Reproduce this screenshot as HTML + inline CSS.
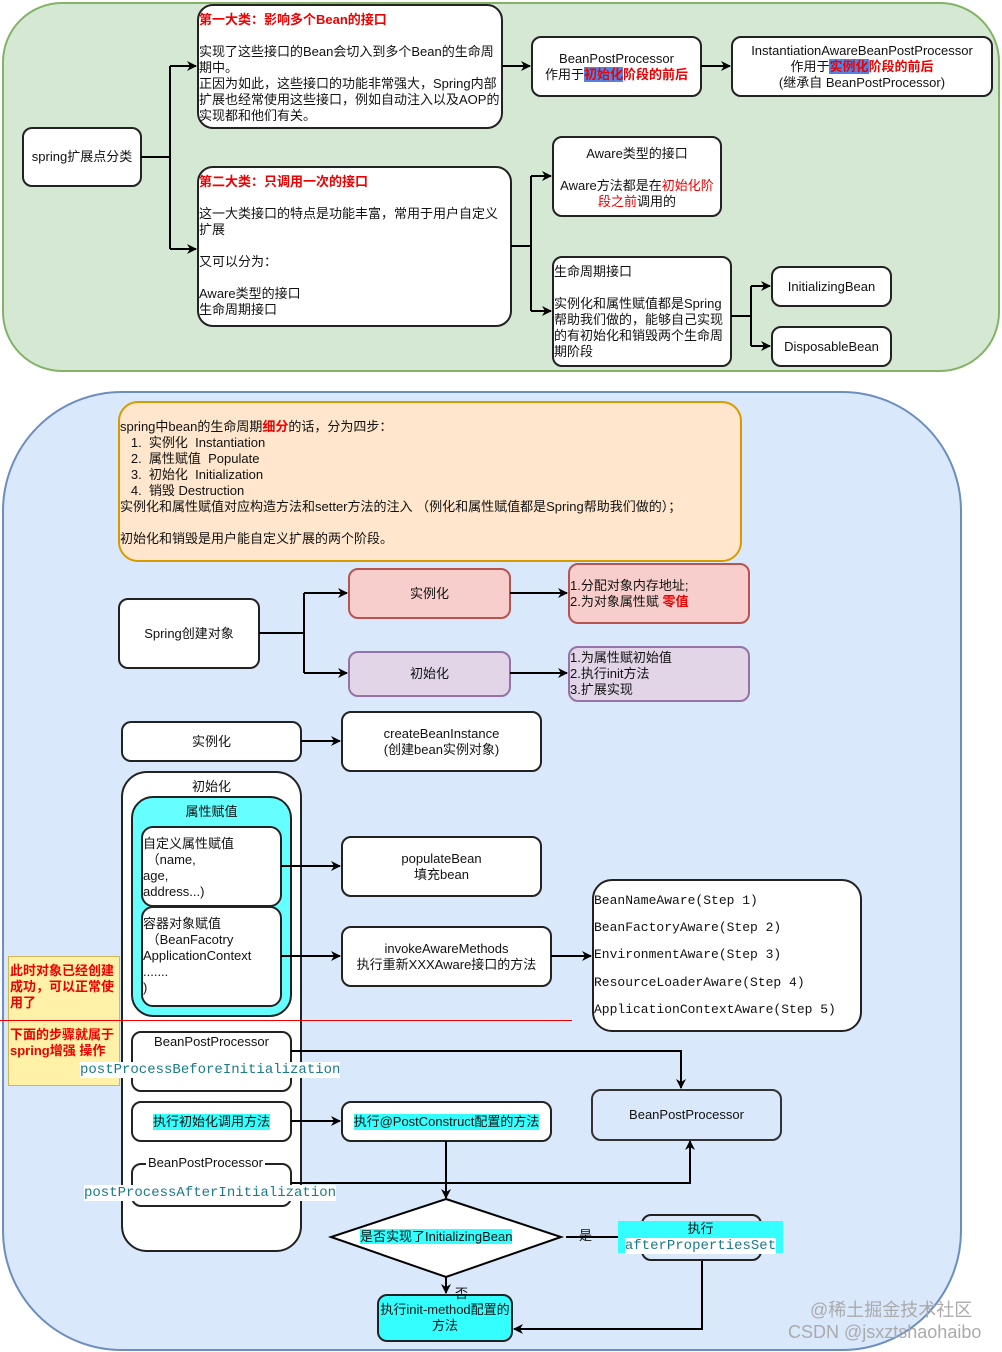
<!DOCTYPE html>
<html><head><meta charset="utf-8"><style>
body{margin:0;width:1002px;height:1352px;background:#fff;position:relative;overflow:hidden;font-family:"Liberation Sans","Noto Sans CJK SC",sans-serif;font-size:13px;color:#111}
.b{position:absolute;box-sizing:border-box;border:2px solid #222;border-radius:10px;background:#fff;display:flex;flex-direction:column;justify-content:center;align-items:center;text-align:center;line-height:16px}
.l{align-items:flex-start;text-align:left;justify-content:flex-start}
.r{color:#e00;font-weight:bold}
.hl{background:#4a86e8}
.m{font-family:"Liberation Mono",monospace;font-size:14px}
.t{position:absolute;white-space:nowrap;line-height:16px}
.cy{background:#33ffff}
svg{position:absolute;left:0;top:0}
</style></head><body>
<div class="b" style="left:2px;top:2px;width:998px;height:370px;border-radius:60px;background:#d5e8d4;border-color:#82b366"></div>
<div class="b" style="left:2px;top:391px;width:960px;height:960px;border-radius:120px;background:#dae8fc;border-color:#6c8ebf"></div>

<div class="b" style="left:22px;top:127px;width:120px;height:60px">spring扩展点分类</div>
<div class="b l" style="left:197px;top:4px;width:306px;height:125px;border-radius:16px"><div style="margin-top:6px"><span class="r">第一大类：影响多个Bean的接口</span><br><br>实现了这些接口的Bean会切入到多个Bean的生命周期中。<br>正因为如此，这些接口的功能非常强大，Spring内部扩展也经常使用这些接口，例如自动注入以及AOP的实现都和他们有关。</div></div>
<div class="b" style="left:531px;top:36px;width:171px;height:61px">BeanPostProcessor<br><span>作用于<span class="r"><span class="hl">初始化</span>阶段的前后</span></span></div>
<div class="b" style="left:731px;top:36px;width:262px;height:61px">InstantiationAwareBeanPostProcessor<br><span>作用于<span class="r"><span class="hl">实例化</span>阶段的前后</span></span>(继承自 BeanPostProcessor)</div>
<div class="b l" style="left:197px;top:166px;width:315px;height:161px;border-radius:16px"><div style="margin-top:6px"><span class="r">第二大类：只调用一次的接口</span><br><br>这一大类接口的特点是功能丰富，常用于用户自定义扩展<br><br>又可以分为：<br><br>Aware类型的接口<br>生命周期接口</div></div>
<div class="b" style="left:552px;top:136px;width:170px;height:81px;justify-content:flex-start;padding-top:8px">Aware类型的接口<br><br><span>Aware方法都是在<span class="r" style="font-weight:normal">初始化阶段之前</span>调用的</span></div>
<div class="b l" style="left:552px;top:256px;width:180px;height:111px"><div style="margin-top:6px">生命周期接口<br><br>实例化和属性赋值都是Spring帮助我们做的，能够自己实现的有初始化和销毁两个生命周期阶段</div></div>
<div class="b" style="left:771px;top:266px;width:121px;height:41px">InitializingBean</div>
<div class="b" style="left:771px;top:326px;width:121px;height:41px">DisposableBean</div>

<div class="b l" style="left:118px;top:401px;width:624px;height:161px;border-radius:20px;background:#ffe6cc;border-color:#d79b00"><div style="margin-top:16px">spring中bean的生命周期<span class="r">细分</span>的话，分为四步：<br>&nbsp;&nbsp;&nbsp;1.&nbsp; 实例化&nbsp; Instantiation<br>&nbsp;&nbsp;&nbsp;2.&nbsp; 属性赋值&nbsp; Populate<br>&nbsp;&nbsp;&nbsp;3.&nbsp; 初始化&nbsp; Initialization<br>&nbsp;&nbsp;&nbsp;4.&nbsp; 销毁 Destruction<br>实例化和属性赋值对应构造方法和setter方法的注入 （例化和属性赋值都是Spring帮助我们做的）；<br><br>初始化和销毁是用户能自定义扩展的两个阶段。</div></div>
<div class="b" style="left:118px;top:598px;width:142px;height:71px">Spring创建对象</div>
<div class="b" style="left:348px;top:568px;width:163px;height:51px;background:#f8cecc;border-color:#b85450">实例化</div>
<div class="b" style="left:348px;top:651px;width:163px;height:46px;background:#e1d5e7;border-color:#9673a6">初始化</div>
<div class="b l" style="left:568px;top:563px;width:182px;height:61px;background:#f8cecc;border-color:#b85450;justify-content:center"><div>1.分配对象内存地址;<br>2.为对象属性赋 <span class="r">零值</span></div></div>
<div class="b l" style="left:568px;top:646px;width:182px;height:56px;background:#e1d5e7;border-color:#9673a6;justify-content:center"><div>1.为属性赋初始值<br>2.执行init方法<br>3.扩展实现</div></div>

<div class="b" style="left:121px;top:721px;width:181px;height:41px">实例化</div>
<div class="b" style="left:341px;top:711px;width:201px;height:61px">createBeanInstance<br>(创建bean实例对象)</div>
<div class="b" style="left:121px;top:771px;width:181px;height:481px;border-radius:26px;justify-content:flex-start;padding-top:6px">初始化</div>
<div class="b" style="left:131px;top:796px;width:161px;height:221px;border-radius:22px;background:#66ffff;justify-content:flex-start;padding-top:6px">属性赋值</div>
<div class="b l" style="left:141px;top:826px;width:141px;height:81px;border-radius:12px"><div style="margin-top:8px">自定义属性赋值<br>&nbsp;（name,<br>age,<br>address...)</div></div>
<div class="b l" style="left:141px;top:906px;width:141px;height:101px;border-radius:12px"><div style="margin-top:8px">容器对象赋值<br>&nbsp;（BeanFacotry<br>ApplicationContext<br>.......<br>)</div></div>
<div class="b" style="left:341px;top:836px;width:201px;height:61px">populateBean<br>填充bean</div>
<div class="b" style="left:341px;top:926px;width:211px;height:61px">invokeAwareMethods<br>执行重新XXXAware接口的方法</div>
<div class="b l m" style="left:592px;top:879px;width:270px;height:153px;border-radius:20px;justify-content:space-around;padding:6px 0;font-size:13px">
<div>BeanNameAware(Step 1)</div><div>BeanFactoryAware(Step 2)</div><div>EnvironmentAware(Step 3)</div><div>ResourceLoaderAware(Step 4)</div><div>ApplicationContextAware(Step 5)</div></div>

<div style="position:absolute;left:8px;top:956px;width:112px;height:130px;background:#fff2a8;border:1px solid #d6b656;box-sizing:border-box"></div>
<div class="t" style="left:10px;top:963px;color:#e00;font-weight:bold;white-space:normal;width:108px">此时对象已经创建成功，可以正常使用了</div>
<div class="t" style="left:10px;top:1027px;color:#e00;font-weight:bold;white-space:normal;width:108px">下面的步骤就属于spring增强 操作</div>
<div style="position:absolute;left:0;top:1020px;width:572px;height:1px;background:#e00"></div>

<div class="b" style="left:131px;top:1031px;width:161px;height:61px;justify-content:flex-start;padding-top:1px">BeanPostProcessor</div>
<div class="t m" style="left:80px;top:1062px;color:#1a7a8a;background:#fff">postProcessBeforeInitialization</div>
<div class="b" style="left:131px;top:1101px;width:161px;height:41px"><span class="cy">执行初始化调用方法</span></div>
<div class="b" style="left:341px;top:1101px;width:211px;height:41px"><span class="cy">执行@PostConstruct配置的方法</span></div>
<div class="b" style="left:131px;top:1163px;width:161px;height:44px"></div>
<div class="t" style="left:146px;top:1155px;background:#fff;padding:0 2px">BeanPostProcessor</div>
<div class="t m" style="left:84px;top:1185px;color:#1a7a8a;background:#fff">postProcessAfterInitialization</div>
<div class="b" style="left:591px;top:1089px;width:191px;height:52px;background:#dae8fc;border-color:#333">BeanPostProcessor</div>
<div class="b" style="left:641px;top:1214px;width:121px;height:47px;background:#dae8fc"></div>
<div class="t" style="left:618px;top:1221px;width:165px;height:32px;background:#33ffff;text-align:center">执行<br><span class="m" style="background:#fff;color:#1a7a8a">afterPropertiesSet</span></div>
<div class="b" style="left:377px;top:1294px;width:136px;height:48px;background:#33ffff">执行init-method配置的方法</div>
<div class="t" style="left:579px;top:1228px">是</div>
<div class="t" style="left:455px;top:1286px">否</div>
<div class="t" style="left:810px;top:1300px;font-size:18px;color:#aaa;line-height:20px">@稀土掘金技术社区</div>
<div class="t" style="left:788px;top:1322px;font-size:18px;color:#aaa;line-height:20px">CSDN @jsxztshaohaibo</div>

<svg width="1002" height="1352">
<defs><marker id="a" markerWidth="10" markerHeight="10" refX="9" refY="5" orient="auto" markerUnits="userSpaceOnUse"><path d="M0,0 L10,5 L0,10 L3,5z" fill="#000"/></marker></defs>
<g stroke="#000" stroke-width="2" fill="none">
<path d="M141,157 H170 M170,66 V249"/><path d="M170,66 H196" marker-end="url(#a)"/><path d="M170,249 H196" marker-end="url(#a)"/>
<path d="M502,66 H530" marker-end="url(#a)"/><path d="M701,66 H730" marker-end="url(#a)"/>
<path d="M511,246 H531 M531,176 V311"/><path d="M531,176 H551" marker-end="url(#a)"/><path d="M531,311 H551" marker-end="url(#a)"/>
<path d="M731,316 H751 M751,286 V346"/><path d="M751,286 H770" marker-end="url(#a)"/><path d="M751,346 H770" marker-end="url(#a)"/>
<path d="M259,633 H304 M304,593 V673"/><path d="M304,593 H347" marker-end="url(#a)"/><path d="M304,673 H347" marker-end="url(#a)"/>
<path d="M510,593 H567" marker-end="url(#a)"/><path d="M510,673 H567" marker-end="url(#a)"/>
<path d="M301,741 H340" marker-end="url(#a)"/>
<path d="M281,866 H340" marker-end="url(#a)"/><path d="M281,956 H340" marker-end="url(#a)"/><path d="M551,956 H591" marker-end="url(#a)"/>
<path d="M291,1051 H681 V1088" marker-end="url(#a)"/>
<path d="M291,1121 H340" marker-end="url(#a)"/>
<path d="M446,1141 V1198" marker-end="url(#a)"/>
<path d="M291,1183 H690 V1141" marker-end="url(#a)"/>
<path d="M446,1199 L561,1237 L446,1277 L331,1237 Z" fill="#fff"/>
<path d="M446,1277 V1293" marker-end="url(#a)"/>
<path d="M566,1237 H618"/>
<path d="M702,1261 V1329 H514" marker-end="url(#a)"/>
</g></svg>
<div class="t" style="left:360px;top:1229px"><span class="cy">是否实现了InitializingBean</span></div>
</body></html>
